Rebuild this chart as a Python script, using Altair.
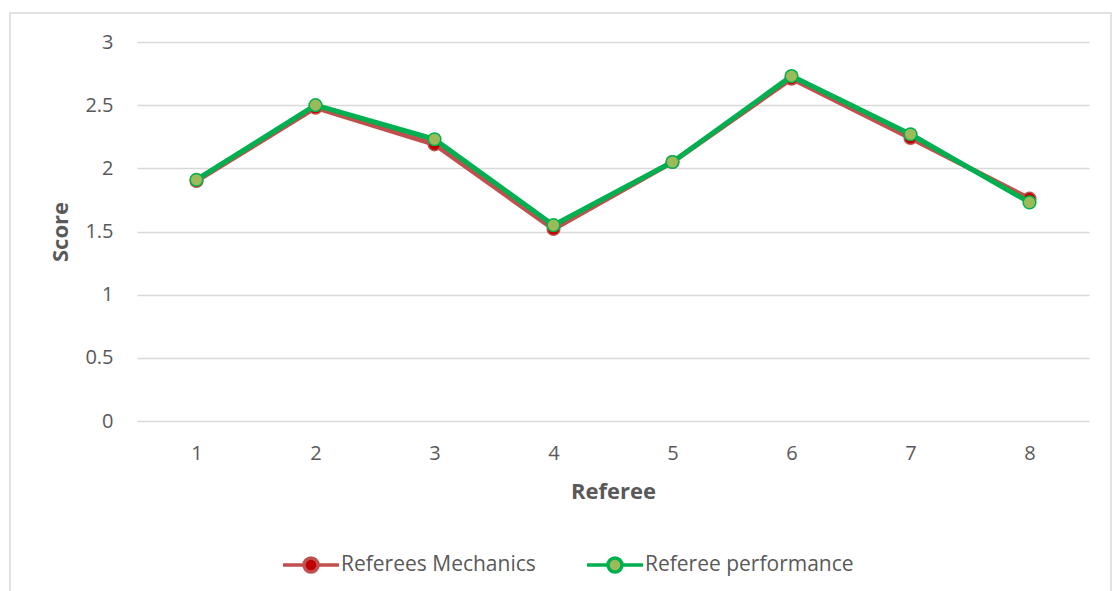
import altair as alt
import pandas as pd

referees = [1, 2, 3, 4, 5, 6, 7, 8]
mechanics = [1.90, 2.48, 2.19, 1.52, 2.05, 2.71, 2.24, 1.76]
performance = [1.91, 2.50, 2.23, 1.55, 2.05, 2.73, 2.27, 1.73]
series_names = ["Referees Mechanics", "Referee performance"]
y_ticks = [0, 0.5, 1, 1.5, 2, 2.5, 3]

line_colors = ["#C0504D", "#00B050"]
fill_colors = ["#C00000", "#9BBB59"]

rows = []
for i, r in enumerate(referees):
    rows.append({"Referee": r, "Score": mechanics[i], "Series": series_names[0]})
for i, r in enumerate(referees):
    rows.append({"Referee": r, "Score": performance[i], "Series": series_names[1]})
df = pd.DataFrame(rows)

FONT = "Open Sans"
TXT = "#595959"

stroke_scale = alt.Scale(domain=series_names, range=line_colors)
fill_scale = alt.Scale(domain=series_names, range=fill_colors)

x_enc = alt.X(
    "Referee:O",
    title="Referee",
    axis=alt.Axis(
        labelAngle=0, ticks=False, domain=False, grid=False,
        labelFontSize=20, labelColor=TXT, labelFont=FONT, labelPadding=22,
        titleFontSize=22, titleFont=FONT, titleFontWeight="bold", titleColor=TXT,
        titlePadding=18,
    ),
)
y_enc = alt.Y(
    "Score:Q",
    title="Score",
    scale=alt.Scale(domain=[0, 3], nice=False, zero=True),
    axis=alt.Axis(
        values=y_ticks, format="~g", ticks=False, domain=False, grid=True,
        gridColor="#D9D9D9", gridWidth=1.3,
        labelFontSize=20, labelColor=TXT, labelFont=FONT, labelPadding=24,
        titleFontSize=22, titleFont=FONT, titleFontWeight="bold", titleColor=TXT,
        titlePadding=12,
    ),
)

legend = alt.Legend(
    title=None,
    orient="none",
    direction="horizontal",
    legendX=144,
    legendY=493,
    symbolType="M-1,0H-0.25M0.25,0H1M-0.25,0A0.25,0.25 0 1,0 0.25,0A0.25,0.25 0 1,0 -0.25,0Z",
    symbolSize=3136,
    symbolStrokeWidth=3.5,
    symbolOpacity=1,
    labelFont=FONT,
    labelFontSize=21,
    labelColor=TXT,
    labelOffset=0,
    columnPadding=44,
    labelLimit=400,
)

base = alt.Chart(df)

layers = []
for name in series_names:
    sub = base.transform_filter(alt.datum.Series == name)
    layers.append(
        sub.mark_line(strokeWidth=5, strokeCap="round", strokeJoin="round").encode(
            x=x_enc, y=y_enc,
            stroke=alt.Stroke("Series:N", scale=stroke_scale, legend=legend),
        )
    )
    layers.append(
        sub.mark_point(filled=True, size=160, strokeWidth=1.5, opacity=1, fillOpacity=1).encode(
            x=x_enc, y=y_enc,
            stroke=alt.Stroke("Series:N", scale=stroke_scale, legend=legend),
            fill=alt.Fill("Series:N", scale=fill_scale, legend=legend),
        )
    )

frame = alt.Chart(pd.DataFrame({"a": [0]})).mark_rect(
    fill=None, stroke="#D9D9D9", strokeWidth=1.5
).encode(
    x=alt.value(-127), x2=alt.value(974), y=alt.value(-29), y2=alt.value(560)
)

chart = alt.layer(frame, *layers).properties(
    width=952,
    height=379,
    padding={"left": 137, "top": 42, "right": 23, "bottom": 170},
    autosize=alt.AutoSizeParams(type="none"),
    background="white",
).configure_view(stroke=None).configure_point(size=160)

chart.save("out.html", embed_options={"renderer": "svg", "actions": False})
